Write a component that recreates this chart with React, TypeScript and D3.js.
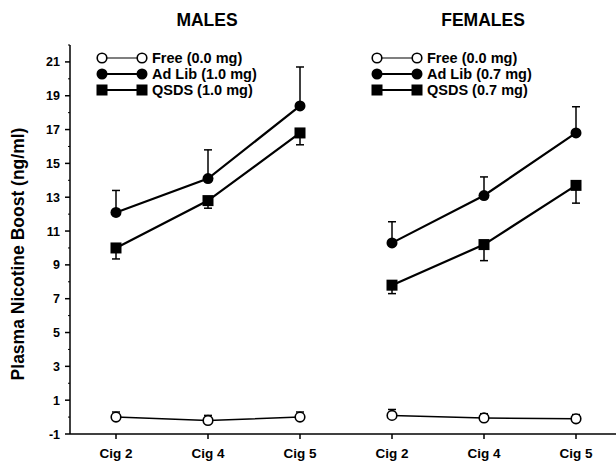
import React from 'react';
import * as d3 from 'd3';

// Categories & panels
const CATEGORIES = ['Cig 2', 'Cig 4', 'Cig 5'];
const PANELS = ['MALES', 'FEMALES'];
const Y_TICKS = [-1, 1, 3, 5, 7, 9, 11, 13, 15, 17, 19, 21];
const Y_MINOR = [0, 2, 4, 6, 8, 10, 12, 14, 16, 18, 20, 22];

// Males
const MALE_FREE = [0.0, -0.2, 0.0];
const MALE_FREE_ERR = [0.3, 0.3, 0.3];
const MALE_ADLIB = [12.1, 14.1, 18.4];
const MALE_ADLIB_ERR = [1.3, 1.7, 2.3];
const MALE_QSDS = [10.0, 12.8, 16.8];
const MALE_QSDS_ERR = [0.65, 0.45, 0.7];

// Females
const FEMALE_FREE = [0.1, -0.05, -0.1];
const FEMALE_FREE_ERR = [0.35, 0.25, 0.25];
const FEMALE_ADLIB = [10.3, 13.1, 16.8];
const FEMALE_ADLIB_ERR = [1.25, 1.1, 1.55];
const FEMALE_QSDS = [7.8, 10.2, 13.7];
const FEMALE_QSDS_ERR = [0.5, 0.95, 1.05];

const MALE_LEGEND = ['Free (0.0 mg)', 'Ad Lib (1.0 mg)', 'QSDS (1.0 mg)'];
const FEMALE_LEGEND = ['Free (0.0 mg)', 'Ad Lib (0.7 mg)', 'QSDS (0.7 mg)'];

const W = 616;
const H = 461;
const FONT = '"Liberation Sans", Arial, Helvetica, sans-serif';

type Marker = 'open' | 'filled' | 'square';

const Mark = ({ x, y, kind }: { x: number; y: number; kind: Marker }) => {
  if (kind === 'square') return <rect x={x - 5.5} y={y - 5.5} width={11} height={11} fill="#000" />;
  if (kind === 'filled') return <circle cx={x} cy={y} r={5.5} fill="#000" />;
  return <circle cx={x} cy={y} r={4.8} fill="#fff" stroke="#000" strokeWidth={1.6} />;
};

export default function App() {
  const x = d3.scaleLinear().domain([-0.5, 5.5]).range([70, 622]);
  const y = d3.scaleLinear().domain([-1, 22]).range([434, 45]);

  const panels = [
    {
      series: [
        { vals: MALE_FREE, err: MALE_FREE_ERR, dir: -1, kind: 'open' as Marker },
        { vals: MALE_ADLIB, err: MALE_ADLIB_ERR, dir: -1, kind: 'filled' as Marker },
        { vals: MALE_QSDS, err: MALE_QSDS_ERR, dir: 1, kind: 'square' as Marker },
      ],
      legend: MALE_LEGEND,
      legendX: 102,
    },
    {
      series: [
        { vals: FEMALE_FREE, err: FEMALE_FREE_ERR, dir: -1, kind: 'open' as Marker },
        { vals: FEMALE_ADLIB, err: FEMALE_ADLIB_ERR, dir: -1, kind: 'filled' as Marker },
        { vals: FEMALE_QSDS, err: FEMALE_QSDS_ERR, dir: 1, kind: 'square' as Marker },
      ],
      legend: FEMALE_LEGEND,
      legendX: 377,
    },
  ];

  const line = d3.line<[number, number]>().x(d => d[0]).y(d => d[1]);
  const legendRows = [58, 74, 90];

  return (
    <>
      <style>{`body{margin:0}`}</style>
      <svg width={W} height={H} style={{ display: 'block', background: '#fff', fontFamily: FONT }}>
        {/* y axis */}
        <line x1={70} x2={70} y1={y(22)} y2={y(-1)} stroke="#000" strokeWidth={1.5} />
        {Y_MINOR.map(v => (
          <line key={'m' + v} x1={68} x2={70} y1={y(v)} y2={y(v)} stroke="#000" strokeWidth={1} />
        ))}
        {Y_TICKS.map(v => (
          <g key={v}>
            <line x1={65} x2={70} y1={y(v)} y2={y(v)} stroke="#000" strokeWidth={1.5} />
            <text x={60} y={y(v)} dy="0.36em" textAnchor="end" fontSize={12.5} fontWeight="bold">
              {v}
            </text>
          </g>
        ))}
        <text
          transform={`translate(24,${254}) rotate(-90)`}
          textAnchor="middle"
          fontSize={17.5}
          fontWeight="bold"
        >
          Plasma Nicotine Boost (ng/ml)
        </text>

        {/* x axis */}
        <line x1={70} x2={W} y1={y(-1)} y2={y(-1)} stroke="#000" strokeWidth={1.5} />
        {PANELS.map((p, pi) =>
          CATEGORIES.map((c, ci) => {
            const cx = x(pi * 3 + ci);
            return (
              <g key={p + c}>
                <line x1={cx} x2={cx} y1={y(-1)} y2={y(-1) + 5} stroke="#000" strokeWidth={1.5} />
                <text x={cx} y={453} dy="0.35em" textAnchor="middle" fontSize={13.5} fontWeight="bold">
                  {c}
                </text>
              </g>
            );
          })
        )}

        {/* panels */}
        {panels.map((panel, pi) => {
          const xc = (i: number) => x(pi * 3 + i);
          return (
            <g key={pi}>
              <text x={xc(1) - 1} y={20} dy="0.35em" textAnchor="middle" fontSize={17.5} fontWeight="bold">
                {PANELS[pi]}
              </text>
              {panel.series.map((s, si) => (
                <g key={si}>
                  {s.vals.map((v, i) => {
                    const y0 = y(v);
                    const y1 = y(v - s.dir * s.err[i]);
                    return (
                      <g key={i}>
                        <line x1={xc(i)} x2={xc(i)} y1={y0} y2={y1} stroke="#000" strokeWidth={1.5} />
                        <line x1={xc(i) - 4} x2={xc(i) + 4} y1={y1} y2={y1} stroke="#000" strokeWidth={1.5} />
                      </g>
                    );
                  })}
                  <path
                    d={line(s.vals.map((v, i) => [xc(i), y(v)] as [number, number])) || ''}
                    fill="none"
                    stroke="#000"
                    strokeWidth={s.kind === 'open' ? 1.5 : 2.2}
                  />
                  {s.vals.map((v, i) => (
                    <Mark key={i} x={xc(i)} y={y(v)} kind={s.kind} />
                  ))}
                </g>
              ))}
              {/* legend */}
              {panel.series.map((s, si) => {
                const ly = legendRows[si];
                const lx = panel.legendX;
                return (
                  <g key={'l' + si}>
                    <line x1={lx} x2={lx + 40} y1={ly} y2={ly} stroke="#000" strokeWidth={s.kind === 'open' ? 1.2 : 2} />
                    <Mark x={lx} y={ly} kind={s.kind} />
                    <Mark x={lx + 40} y={ly} kind={s.kind} />
                    <text x={lx + 50} y={ly} dy="0.36em" fontSize={14.5} fontWeight="bold">
                      {panel.legend[si]}
                    </text>
                  </g>
                );
              })}
            </g>
          );
        })}
      </svg>
    </>
  );
}
